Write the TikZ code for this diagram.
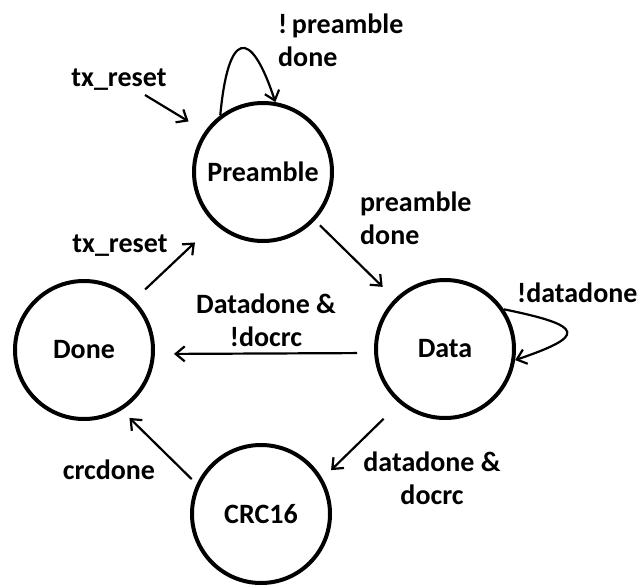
\documentclass[tikz,border=0pt]{standalone}
\usepackage{fontspec}
\setmainfont{Carlito}
\usetikzlibrary{arrows.meta}

\tikzset{
  state/.style={circle, draw, line width=4pt, minimum size=138pt, inner sep=0pt,
                font=\bfseries\fontsize{28}{32}\selectfont},
  lbl/.style={inner sep=0pt, font=\bfseries\fontsize{28}{33}\selectfont},
  arr/.style={line width=2.2pt, -{Straight Barb[length=9pt,width=15pt,line width=2.2pt]}},
}

\begin{document}
\begin{tikzpicture}[x=1pt,y=-1pt]
  \useasboundingbox[fill=white] (0,0) rectangle (637,586);

  % states
  \node[state] (pre)  at (263,172) {Preamble};
  \node[state] (data) at (445,349) {Data};
  \node[state] (done) at (84,350)  {Done};
  \node[state] (crc)  at (261,514) {CRC16};

  % reset entry
  \coordinate (rst) at (145,95);
  \draw[arr, shorten >=19pt] (rst) -- (pre.145);
  \node[lbl] (lrst) at (119,80) {tx\_reset};

  % self loop on Preamble
  \draw[arr] (pre.127) .. controls (228,32) and (250,25) .. (pre.80);
  \node[lbl, align=left, anchor=west] (lpre) at (278,40) {!\,preamble\\done};

  % Preamble -> Data
  \draw[arr, shorten <=7pt, shorten >=17pt] (pre.-43) -- (data.135);
  \node[lbl, align=left, anchor=west] (lpd) at (360,218) {preamble\\done};

  % self loop on Data
  \draw[arr] (data.34) .. controls (586,326) and (586,336) .. (data.-9);
  \node[lbl, anchor=west] (ldd) at (517,293) {!datadone};

  % Data -> Done
  \draw[arr, shorten <=17pt, shorten >=19pt] ([yshift=-4pt]data.west) -- ([yshift=-4pt]done.east);
  \node[lbl, align=center] (ldn) at (266,320) {Datadone \&\\!docrc};

  % Done -> Preamble
  \draw[arr, shorten <=15pt, shorten >=27pt] (done.45) -- (pre.227);
  \node[lbl] (lrst2) at (120,246) {tx\_reset};

  % Data -> CRC16
  \draw[arr, shorten <=22pt, shorten >=12pt] (data.230) -- (crc.30);
  \node[lbl, align=center] (ldc) at (432,478) {datadone \&\\docrc};

  % CRC16 -> Done
  \draw[arr, shorten <=7pt, shorten >=11pt] (crc.155) -- (done.-58);
  \node[lbl] (lcrc) at (109,470) {crcdone};
\end{tikzpicture}
\end{document}
